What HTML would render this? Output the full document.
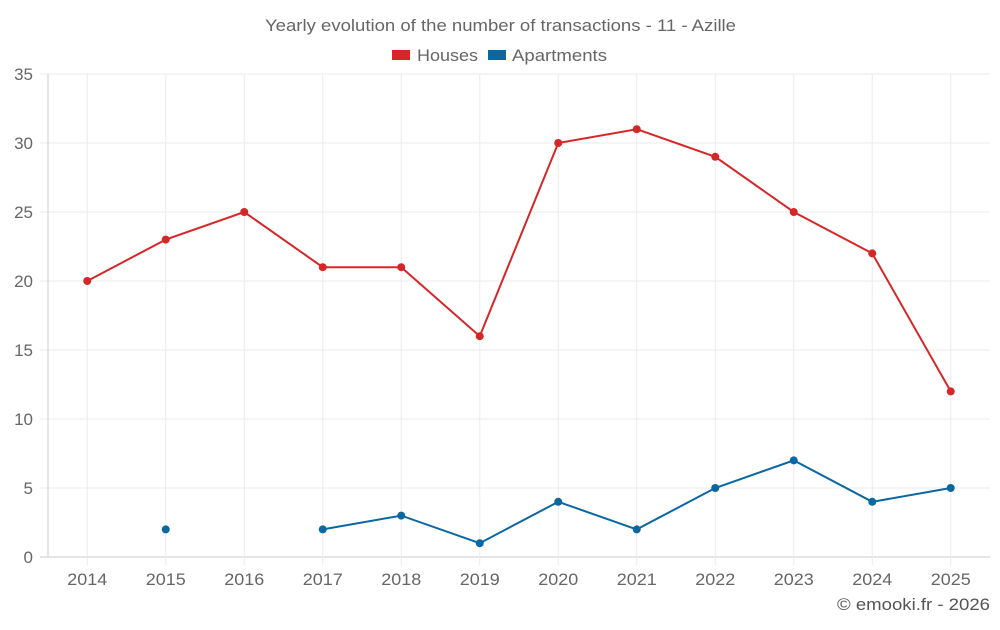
<!DOCTYPE html>
<html><head><meta charset="utf-8"><style>
body{margin:0;background:#fff;font-family:"Liberation Sans",sans-serif}
</style></head><body>
<svg id="c" width="1000" height="625" xmlns="http://www.w3.org/2000/svg" font-family="Liberation Sans, sans-serif">
<text x="265" y="31" font-size="17" fill="#666" textLength="471" lengthAdjust="spacingAndGlyphs">Yearly evolution of the number of transactions - 11 - Azille</text>
<g><rect x="392" y="50" width="18" height="10" fill="#d62728"/><text x="417" y="61" font-size="17" fill="#666" textLength="61" lengthAdjust="spacingAndGlyphs">Houses</text></g>
<g><rect x="488" y="50" width="18" height="10" fill="#0a67a1"/><text x="512" y="61" font-size="17" fill="#666" textLength="95" lengthAdjust="spacingAndGlyphs">Apartments</text></g>
<g id="grid"></g><g id="axes"></g><g id="series"></g>
<text x="837" y="610" font-size="17" fill="#555" textLength="153" lengthAdjust="spacingAndGlyphs">© emooki.fr - 2026</text>
</svg>
<script>
const years=["2014","2015","2016","2017","2018","2019","2020","2021","2022","2023","2024","2025"];
const houses=[20,23,25,21,21,16,30,31,29,25,22,12];
const apartments=[null,2,null,2,3,1,4,2,5,7,4,5];
const yTicks=[0,5,10,15,20,25,30,35];
const L=48,R=990,T=74,B=557,YMAX=35;
const ns="http://www.w3.org/2000/svg";
const xs=i=>L+(R-L)/years.length*(i+0.5);
const ys=v=>B-(B-T)*v/YMAX;
function mk(t,a,p){const e=document.createElementNS(ns,t);for(const k in a)e.setAttribute(k,a[k]);p.appendChild(e);return e;}
const g=document.getElementById('grid'),ax=document.getElementById('axes'),s=document.getElementById('series');
yTicks.forEach(v=>{const y=ys(v);
const l=mk('line',{x1:40,x2:R,y1:y,y2:y,stroke:v===0?'#ccc':'#ebebeb'},g);


const t=mk('text',{x:33,y:y+6,'text-anchor':'end','font-size':17,fill:'#666'},ax);t.textContent=v;

});
mk('line',{x1:L,x2:L,y1:T,y2:B,stroke:'#ccc'},g);
years.forEach((yr,i)=>{const x=xs(i);
const l=mk('line',{x1:x,x2:x,y1:T,y2:B+8,stroke:'#ebebeb'},g);


const t=mk('text',{x:x-20,y:585,'font-size':17,fill:'#666',textLength:40,lengthAdjust:'spacingAndGlyphs'},ax);t.textContent=yr;

});
function draw(data,color,name){
let segs=[],cur=[];
data.forEach((v,i)=>{if(v==null){if(cur.length)segs.push(cur);cur=[];}else cur.push([xs(i),ys(v)]);});
if(cur.length)segs.push(cur);
segs.forEach(sg=>{if(sg.length>1){const p=mk('polyline',{points:sg.map(q=>q.join(',')).join(' '),fill:'none',stroke:color,'stroke-width':2},s);

}});
data.forEach((v,i)=>{if(v==null)return;const c=mk('circle',{cx:xs(i),cy:ys(v),r:4,fill:color},s);

});
}
draw(houses,'#d62728','houses');
draw(apartments,'#0a67a1','apartments');
</script>
</body></html>
